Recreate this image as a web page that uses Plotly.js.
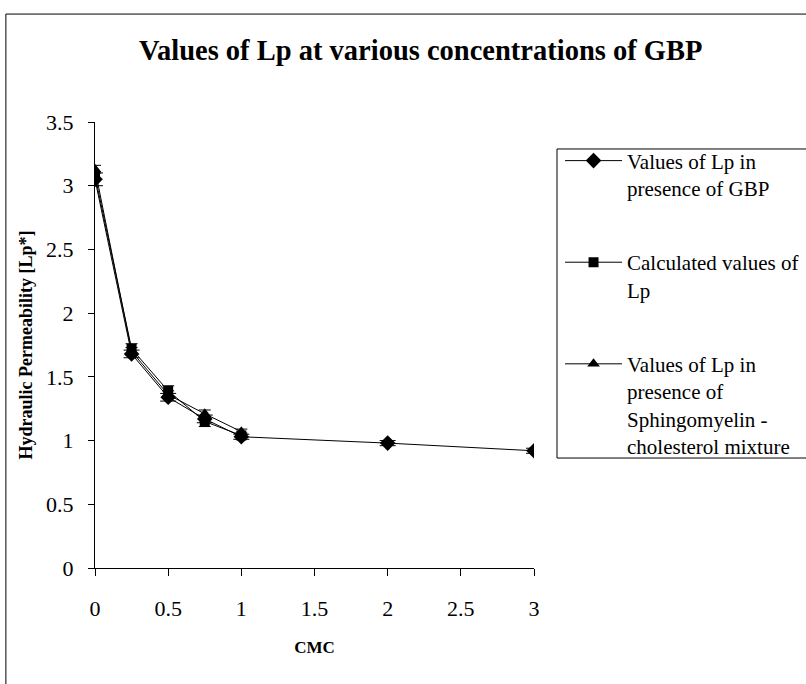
<!DOCTYPE html>
<html>
<head>
<meta charset="utf-8">
<script src="https://cdn.plot.ly/plotly-3.0.1.min.js"></script>
<style>
html,body{margin:0;padding:0;background:#fff;}
#chart{width:806px;height:684px;}
</style>
</head>
<body>
<div id="chart"></div>
<script>
// Data
const cmc = [0, 0.25, 0.5, 0.75, 1, 2, 3];
const lpGBP = [3.05, 1.68, 1.34, 1.17, 1.03, 0.98, 0.92];
const lpGBPErr = [0.05, 0.03, 0.03, 0.03, 0.02, 0.02, 0.02];

const cmcCalc = [0, 0.25, 0.5, 0.75, 1];
const lpCalc = [3.08, 1.72, 1.39, 1.15, 1.04];
const lpCalcErr = [0.03, 0.04, 0.04, 0.04, 0.02];

const cmcSM = [0, 0.25, 0.5, 0.75, 1];
const lpSM = [3.13, 1.70, 1.36, 1.21, 1.07];
const lpSMErr = [0.03, 0.03, 0.03, 0.03, 0.02];

const names = [
  "Values of Lp in<br>presence of GBP",
  "Calculated values of<br>Lp",
  "Values of Lp in<br>presence of<br>Sphingomyelin -<br>cholesterol mixture"
];

const font = "'Liberation Serif', 'Times New Roman', Times, serif";

function tr(x, y, err, name, symbol, size, grp, ew) {
  return {
    x: x, y: y, name: name, type: 'scatter', mode: 'lines+markers',
    legendgroup: grp,
    line: {color: '#000', width: 1},
    marker: {symbol: symbol, size: size, color: '#000'},
    error_y: {type: 'data', array: err, visible: true, color: '#000', thickness: 1, width: ew}
  };
}

const data = [
  tr(cmc, lpGBP, lpGBPErr, names[0], 'diamond', 12, 'a', 8),
  tr(cmcCalc, lpCalc, lpCalcErr, names[1], 'square', 10, 'b', 6),
  tr(cmcSM, lpSM, lpSMErr, names[2], 'triangle-up', 11, 'c', 6)
];

const layout = {
  width: 806, height: 684,
  paper_bgcolor: '#fff', plot_bgcolor: '#fff',
  margin: {l: 95, r: 272, t: 122, b: 116, autoexpand: false},
  font: {family: font, size: 22, color: '#000'},
  title: {
    text: '<b>Values of Lp at various concentrations of GBP</b>',
    font: {family: font, size: 28.5, color: '#000'},
    xref: 'container', x: 0.522, xanchor: 'center',
    yref: 'container', y: 0.927, yanchor: 'middle'
  },
  xaxis: {
    range: [0, 3], tickvals: [0, 0.5, 1, 1.5, 2, 2.5, 3],
    showgrid: false, zeroline: false, showline: true, linecolor: '#000', linewidth: 1,
    ticks: 'outside', ticklen: 7, tickcolor: '#000', ticklabelstandoff: 14,
    tickfont: {family: font, size: 22},
    title: {text: '<b>CMC</b>', font: {family: font, size: 17}, standoff: 20}
  },
  yaxis: {
    range: [0, 3.5], tickvals: [0, 0.5, 1, 1.5, 2, 2.5, 3, 3.5],
    showgrid: false, zeroline: false, showline: true, linecolor: '#000', linewidth: 1,
    ticks: 'outside', ticklen: 6, tickcolor: '#000', ticklabelstandoff: 10,
    tickfont: {family: font, size: 22},
    title: {text: '<b>Hydraulic Permeability [Lp*]</b>', font: {family: font, size: 18}, standoff: 8}
  },
  showlegend: true,
  legend: {
    x: 1.0593, xanchor: 'left', y: 0.9586, yanchor: 'top',
    borderwidth: 0, bgcolor: 'rgba(0,0,0,0)',
    font: {family: font, size: 21, color: '#000'},
    traceorder: 'grouped', tracegroupgap: 44, valign: 'top',
    itemwidth: 57
  },
  shapes: [
    {type: 'rect', xref: 'paper', yref: 'paper', x0: 1.0524, x1: 1.7, y0: 0.2466, y1: 0.9395,
     line: {color: '#000', width: 1}, fillcolor: 'rgba(0,0,0,0)', layer: 'below'},
    {type: 'rect', xref: 'paper', yref: 'paper', x0: -0.203, x1: 1.7, y0: -0.4, y1: 1.242,
     line: {color: '#000', width: 1}, fillcolor: 'rgba(0,0,0,0)', layer: 'below'}
  ]
};

Plotly.newPlot('chart', data, layout, {displayModeBar: false, staticPlot: true});
</script>
</body>
</html>
